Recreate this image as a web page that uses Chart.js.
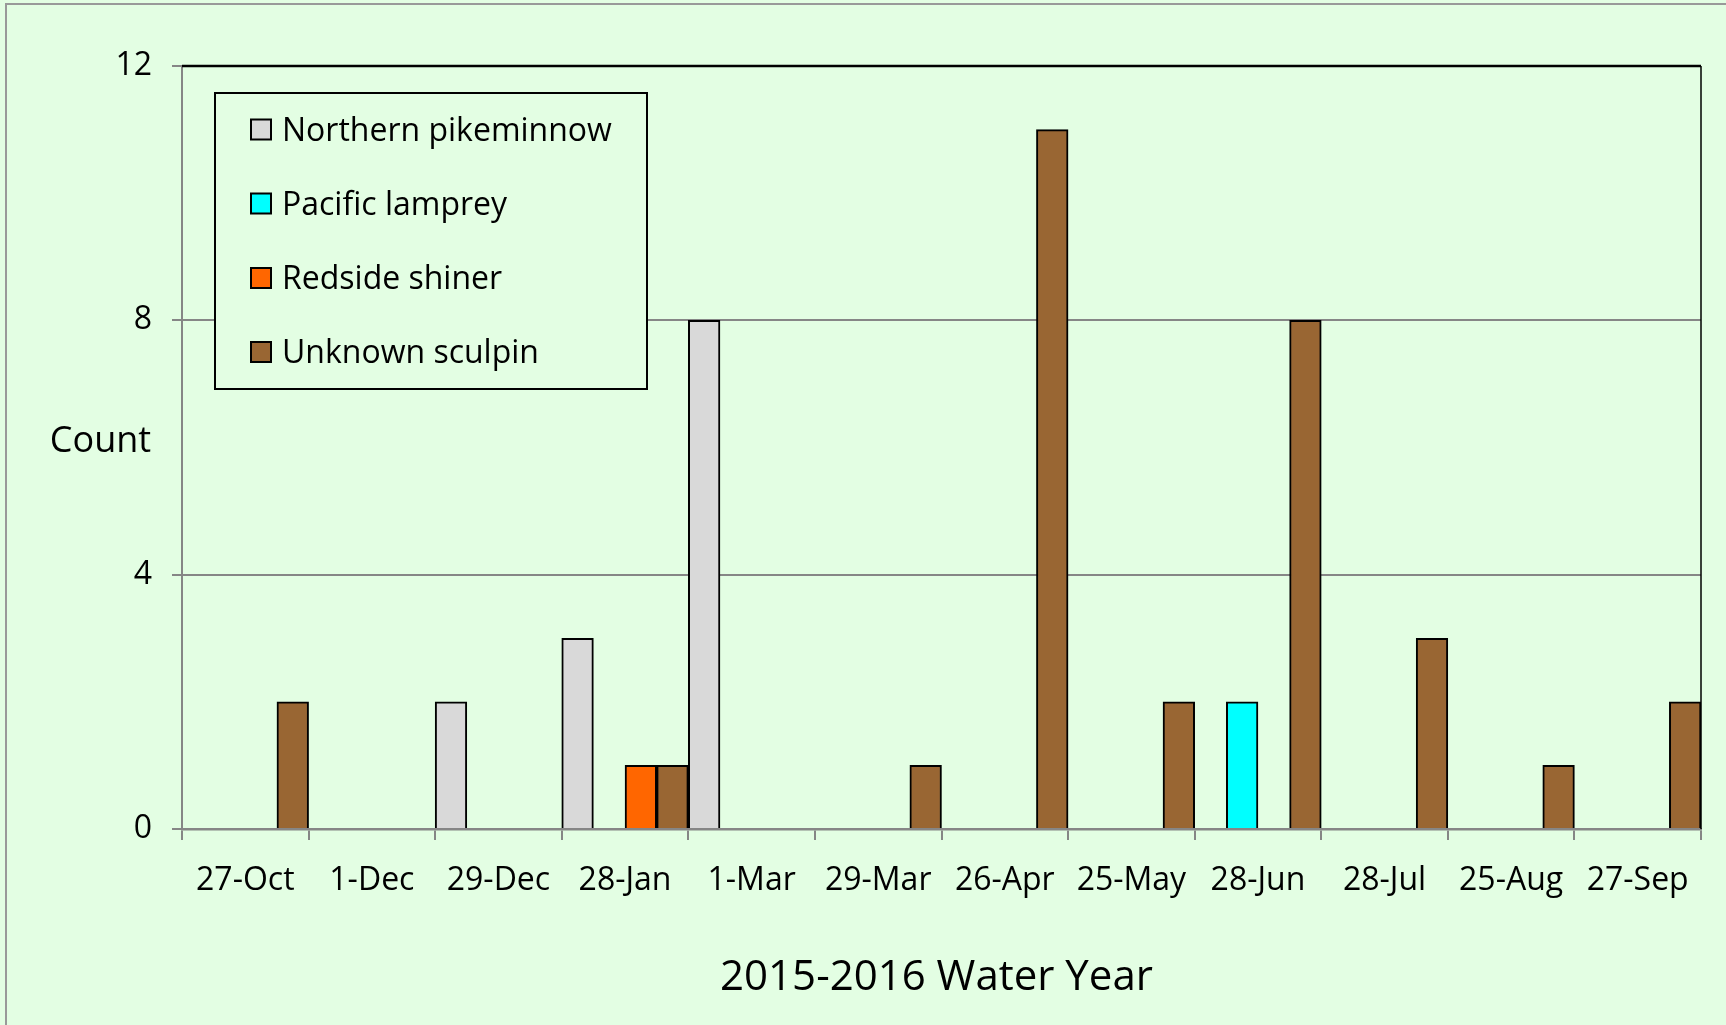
<!DOCTYPE html>
<html>
<head>
<meta charset="utf-8">
<script src="https://cdn.jsdelivr.net/npm/chart.js@4.4.1/dist/chart.umd.min.js"></script>
<style>
  html, body { margin: 0; padding: 0; background: #E3FEE3; overflow: hidden; }
  #wrap { position: absolute; left: 0; top: 0; width: 1726px; height: 1025px; }
</style>
</head>
<body>
<div id="wrap"><canvas id="c" width="1726" height="1025"></canvas></div>
<script>
const categories = ['27-Oct','1-Dec','29-Dec','28-Jan','1-Mar','29-Mar','26-Apr','25-May','28-Jun','28-Jul','25-Aug','27-Sep'];
const seriesNames = ['Northern pikeminnow','Pacific lamprey','Redside shiner','Unknown sculpin'];
const pikeminnow = [null, null, 2, 3, 8, null, null, null, null, null, null, null];
const lamprey    = [null, null, null, null, null, null, null, null, 2, null, null, null];
const shiner     = [null, null, null, 1, null, null, null, null, null, null, null, null];
const sculpin    = [2, null, null, 1, null, 1, 11, 2, 8, 3, 1, 2];
const yTicks = [0, 4, 8, 12];
const yTitle = 'Count';
const xTitle = '2015-2016 Water Year';

const colors = ['#D9D9D9', '#00FFFF', '#FF6600', '#996633'];
const FONT = "'Open Sans'";
const GRID = '#868686';

const decor = {
  id: 'decor',
  beforeDraw(chart) {
    const ctx = chart.ctx;
    ctx.save();
    ctx.fillStyle = '#E3FEE3';
    ctx.fillRect(0, 0, chart.width, chart.height);
    ctx.strokeStyle = '#999999';
    ctx.lineWidth = 2;
    ctx.strokeRect(6, 4, chart.width + 20, chart.height + 20);
    ctx.restore();
  },
  afterDraw(chart) {
    const ctx = chart.ctx;
    const a = chart.chartArea;
    ctx.save();
    // top & right plot border
    ctx.strokeStyle = '#000';
    ctx.lineWidth = 2.5;
    ctx.beginPath();
    ctx.moveTo(a.left, a.top);
    ctx.lineTo(a.right, a.top);
    ctx.stroke();
    ctx.lineWidth = 1.5;
    ctx.beginPath();
    ctx.moveTo(a.right, a.top);
    ctx.lineTo(a.right, a.bottom);
    ctx.stroke();

    // legend
    const lx = 215, ly = 93, lw = 432, lh = 296;
    ctx.fillStyle = '#E3FEE3';
    ctx.fillRect(lx, ly, lw, lh);
    ctx.strokeStyle = '#000';
    ctx.lineWidth = 2;
    ctx.strokeRect(lx, ly, lw, lh);
    const rows = [129.5, 203.5, 278, 352];
    ctx.font = '32px ' + FONT;
    ctx.textBaseline = 'alphabetic';
    ctx.textAlign = 'left';
    chart.data.datasets.forEach((ds, i) => {
      const cy = rows[i];
      ctx.fillStyle = ds.backgroundColor;
      ctx.fillRect(251, cy - 10, 20, 20);
      ctx.strokeStyle = '#000';
      ctx.lineWidth = 2;
      ctx.strokeRect(251, cy - 10, 20, 20);
      ctx.fillStyle = '#000';
      ctx.fillText(ds.label, 282, cy + 11);
    });

    // axis titles
    ctx.fillStyle = '#000';
    ctx.font = '36px ' + FONT;
    ctx.textAlign = 'center';
    ctx.fillText(yTitle, 100.5, 451.5);
    ctx.font = '42px ' + FONT;
    ctx.fillText(xTitle, 936.5, 990);
    ctx.restore();
  }
};

function build() {
  const datasets = [pikeminnow, lamprey, shiner, sculpin].map((d, i) => ({
    label: seriesNames[i],
    data: d,
    backgroundColor: colors[i],
    borderColor: '#000',
    borderWidth: 2,
    borderSkipped: 'bottom',
    categoryPercentage: 1.0,
    barPercentage: 1.0
  }));

  new Chart(document.getElementById('c'), {
    type: 'bar',
    data: { labels: categories, datasets },
    options: {
      responsive: false,
      animation: false,
      devicePixelRatio: 1,
      layout: { padding: { top: 66, right: 25, left: 0, bottom: 0 } },
      plugins: { legend: { display: false }, tooltip: { enabled: false } },
      scales: {
        x: {
          offset: true,
          afterFit(s) { s.height = 196; },
          grid: {
            offset: true,
            drawOnChartArea: false,
            drawTicks: true,
            tickLength: 11,
            tickColor: GRID,
            tickWidth: 2,
            color: GRID,
            lineWidth: 2
          },
          border: { display: true, color: GRID, width: 2.5 },
          ticks: { color: '#000', font: { family: FONT, size: 32 }, padding: 22, maxRotation: 0, autoSkip: false }
        },
        y: {
          min: 0,
          max: 12,
          afterFit(s) { s.width = 182; },
          afterBuildTicks(s) { s.ticks = yTicks.map(v => ({ value: v })); },
          grid: {
            color: (c) => (c.tick && (c.tick.value === 0 || c.tick.value === 12)) ? 'rgba(0,0,0,0)' : GRID,
            lineWidth: 2,
            tickLength: 10,
            tickColor: GRID,
            tickWidth: 2
          },
          border: { display: true, color: GRID, width: 2 },
          ticks: { color: '#000', font: { family: FONT, size: 32 }, padding: 20 }
        }
      }
    },
    plugins: [decor]
  });
}

Promise.all([
  document.fonts.load('32px "Open Sans"'),
  document.fonts.load('42px "Open Sans"')
]).then(build, build);
</script>
</body>
</html>
